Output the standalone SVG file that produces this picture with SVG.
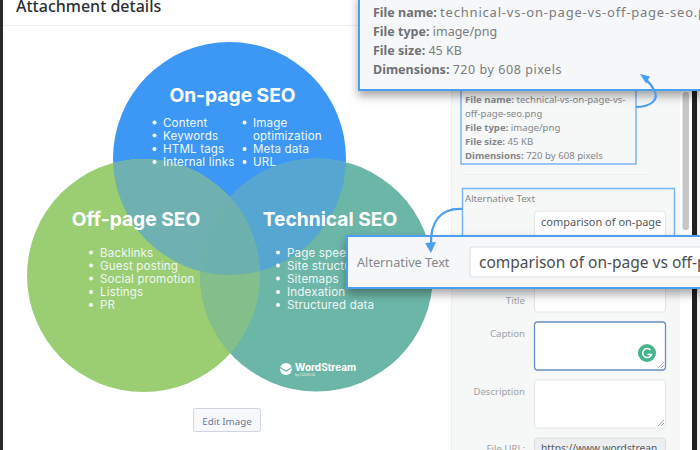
<svg xmlns="http://www.w3.org/2000/svg" width="700" height="450" viewBox="0 0 700 450">
<style>
text{font-family:"Liberation Sans",Arial,sans-serif}
.hd{font-family:Inter,"Open Sans",sans-serif;font-weight:700;font-size:19.2px;fill:#fff}
.li{font-family:Inter,"Open Sans",sans-serif;font-size:11.6px;letter-spacing:.15px;fill:#eef7f5}
.dim{fill:#7a7d80;font-size:12.5px;font-family:"Noto Sans",sans-serif}
.dimb{font-weight:700;fill:#6f7275}
.sm{fill:#85888b;font-size:9.6px;font-family:"Noto Sans",sans-serif}
.lab{fill:#a0a3a6;font-size:9.6px;font-family:"Noto Sans",sans-serif}
.fld{fill:#fff;stroke:#e2e4e7;stroke-width:1}
.hl{fill:none;stroke:#79b4f6;stroke-width:1.5}
.pop{fill:#f6f7f8;stroke:#4b9ff0;stroke-width:2}
.cv{fill:none;stroke:#4b9ff0;stroke-width:2.2}
.grip{fill:none;stroke:#9a9da0;stroke-width:.8}
</style>
<defs>
<clipPath id="cb"><circle cx="229.5" cy="158.5" r="116.5"/></clipPath>
<clipPath id="cg"><circle cx="143.5" cy="275.5" r="116.5"/></clipPath>
<filter id="sh" x="-5%" y="-20%" width="110%" height="150%"><feDropShadow dx="0" dy="5" stdDeviation="5" flood-color="#000" flood-opacity=".35"/></filter>
</defs>
<rect width="700" height="450" fill="#fff"/>
<rect x="0" y="0" width="3" height="450" fill="#2a2a2a"/>
<rect x="3" y="25" width="450" height="1" fill="#eeeeee"/>
<text x="16" y="12" font-size="16" font-weight="500" fill="#2b2f33" style="font-family:'Noto Sans',sans-serif">Attachment details</text>

<rect x="452" y="0" width="228" height="450" fill="#f6f7f7"/>
<rect x="451" y="0" width="1" height="450" fill="#eceeef"/>
<rect x="682.500" y="92" width="6.500" height="138" rx="3" fill="#c6c6c6"/>
<rect x="692" y="0" width="5" height="450" fill="#1f1f1f"/>
<rect x="697" y="0" width="3" height="450" fill="#f3f3f3"/>

<g id="venn">
<g id="on-page"><circle cx="229.5" cy="158.5" r="116.5" fill="#3d97f5"/></g>
<g id="off-page"><circle cx="143.5" cy="275.5" r="116.5" fill="#9bcd72"/></g>
<g id="technical"><circle cx="316.5" cy="275" r="116.5" fill="#6cb6a7"/></g>
<g clip-path="url(#cb)"><circle cx="143.5" cy="275.5" r="116.5" fill="#6fb1b2"/><circle cx="316.5" cy="275" r="116.5" fill="#55a6d0"/></g>
<g clip-path="url(#cg)"><circle cx="316.5" cy="275" r="116.5" fill="#82bf8b"/></g>
<g clip-path="url(#cb)"><g clip-path="url(#cg)"><circle cx="316.5" cy="275" r="116.5" fill="#6cb1ae"/></g></g>
</g>

<g id="on-page-text">
<text class="hd" x="232.500" y="102" text-anchor="middle">On-page SEO</text>
<circle cx="154.500" cy="122.500" r="2" fill="#fff"/><text class="li" x="163" y="127">Content</text>
<circle cx="154.500" cy="135.500" r="2" fill="#fff"/><text class="li" x="163" y="140">Keywords</text>
<circle cx="154.500" cy="149" r="2" fill="#fff"/><text class="li" x="163" y="153">HTML tags</text>
<circle cx="154.500" cy="162" r="2" fill="#fff"/><text class="li" x="163" y="166">Internal links</text>
<circle cx="244.500" cy="122.500" r="2" fill="#fff"/><text class="li" x="253" y="127">Image</text>
<text class="li" x="253" y="140">optimization</text>
<circle cx="244.500" cy="149" r="2" fill="#fff"/><text class="li" x="253" y="153">Meta data</text>
<circle cx="244.500" cy="162" r="2" fill="#fff"/><text class="li" x="253" y="166">URL</text>
</g>
<g id="off-page-text">
<text class="hd" x="136" y="226" text-anchor="middle">Off-page SEO</text>
<circle cx="91" cy="252.500" r="2" fill="#fff"/><text class="li" x="100" y="257">Backlinks</text>
<circle cx="91" cy="265.500" r="2" fill="#fff"/><text class="li" x="100" y="270">Guest posting</text>
<circle cx="91" cy="278.500" r="2" fill="#fff"/><text class="li" x="100" y="283">Social promotion</text>
<circle cx="91" cy="292" r="2" fill="#fff"/><text class="li" x="100" y="296">Listings</text>
<circle cx="91" cy="305" r="2" fill="#fff"/><text class="li" x="100" y="309">PR</text>
</g>
<g id="technical-text">
<text class="hd" x="330" y="226" text-anchor="middle">Technical SEO</text>
<circle cx="278" cy="252.500" r="2" fill="#fff"/><text class="li" x="287" y="257">Page speed</text>
<circle cx="278" cy="265.500" r="2" fill="#fff"/><text class="li" x="287" y="270">Site structure</text>
<circle cx="278" cy="278.500" r="2" fill="#fff"/><text class="li" x="287" y="283">Sitemaps</text>
<circle cx="278" cy="292" r="2" fill="#fff"/><text class="li" x="287" y="296">Indexation</text>
<circle cx="278" cy="305" r="2" fill="#fff"/><text class="li" x="287" y="309">Structured data</text>
<circle cx="286" cy="369" r="6" fill="#fff"/>
<path d="M280 367.500l6 3.500l6-3.500" fill="none" stroke="#6cb6a7" stroke-width="1.300"/>
<text x="295" y="371" font-size="10" font-weight="700" fill="#fff" style="font-family:Inter,sans-serif">WordStream</text>
<text x="295" y="376" font-size="3.500" fill="#e8f4f1" style="font-family:Inter,sans-serif">by LOCALIQ</text>
</g>

<g id="edit-image">
<rect x="193.500" y="408.500" width="67" height="23" rx="2" fill="#f7f8fb" stroke="#d0d5e2"/>
<text x="227" y="424.500" font-size="9.800" text-anchor="middle" fill="#6b7a9d" style="font-family:'Noto Sans',sans-serif">Edit Image</text>
</g>

<g id="file-info">
<rect class="hl" x="461" y="90" width="175" height="74"/>
<text class="sm" x="465" y="103"><tspan font-weight="700">File name:</tspan> technical-vs-on-page-vs-</text>
<text class="sm" x="465" y="117">off-page-seo.png</text>
<text class="sm" x="465" y="131"><tspan font-weight="700">File type:</tspan> image/png</text>
<text class="sm" x="465" y="145"><tspan font-weight="700">File size:</tspan> 45 KB</text>
<text class="sm" x="465" y="159"><tspan font-weight="700">Dimensions:</tspan> 720 by 608 pixels</text>
<rect x="463" y="174" width="187" height="1" fill="#eceeef"/>
</g>

<g id="alt-box">
<rect class="hl" x="462.500" y="188.500" width="212" height="60"/>
<text class="sm" x="465" y="202">Alternative Text</text>
<rect class="fld" x="534.500" y="211" width="131" height="26" rx="3"/>
<text x="541" y="226" font-size="11" fill="#55585b" style="font-family:'Noto Sans',sans-serif">comparison of on-page</text>
</g>

<g id="form">
<rect class="fld" x="534.500" y="285" width="131" height="27" rx="3"/>
<text class="lab" x="525" y="304" text-anchor="end">Title</text>
<rect x="534.500" y="322" width="131" height="48" rx="3" fill="#fff" stroke="#6b8fc4" stroke-width="1.300"/>
<circle cx="647" cy="353" r="9" fill="#46b48b"/>
<path d="M650.500 350a4.500 4.500 0 1 0 1 4.500h-4" fill="none" stroke="#fff" stroke-width="1.500"/>
<path class="grip" d="M658 368l6-6M661 368l3-3"/>
<text class="lab" x="525" y="337" text-anchor="end">Caption</text>
<rect class="fld" x="534.500" y="380" width="131" height="48" rx="3"/>
<path class="grip" d="M658 426l6-6M661 426l3-3"/>
<text class="lab" x="525" y="395" text-anchor="end">Description</text>
<rect x="534.500" y="438" width="131" height="14" rx="3" fill="#eceef0" stroke="#dddfe2"/>
<text class="lab" x="525" y="452" text-anchor="end">File URL:</text>
<text x="541" y="452" font-size="10.200" fill="#55585b" style="font-family:'Noto Sans',sans-serif">https://www.wordstrean</text>
</g>

<g id="popup-file">
<rect class="pop" x="359" y="-6" width="345" height="96" filter="url(#sh)"/>
<text class="dim" x="373" y="17"><tspan class="dimb">File name:</tspan> <tspan letter-spacing=".8" font-size="13">technical-vs-on-page-vs-off-page-seo.png</tspan></text>
<text class="dim" x="373" y="36"><tspan class="dimb">File type:</tspan> image/png</text>
<text class="dim" x="373" y="55"><tspan class="dimb">File size:</tspan> 45 KB</text>
<text class="dim" x="373" y="74"><tspan class="dimb">Dimensions:</tspan> <tspan letter-spacing=".55">720 by 608 pixels</tspan></text>
</g>

<g id="popup-alt">
<rect class="pop" x="347" y="236" width="358" height="52" filter="url(#sh)"/>
<text x="357" y="267" font-size="12.700" fill="#85888b" style="font-family:'Noto Sans',sans-serif">Alternative Text</text>
<rect x="470" y="247" width="240" height="30" rx="3" fill="#fff" stroke="#dcdee1"/>
<text x="479" y="268" font-size="15.500" fill="#4a4d50" style="font-family:'Noto Sans',sans-serif">comparison of on-page vs off-page</text>
</g>

<g id="connectors">
<path class="cv" d="M636 107C650 107 660 100 654 90C652 86 649 82 645 79"/>
<path d="M640 74l10 2.500l-4 7z" fill="#4b9ff0"/>
<path class="cv" d="M462 209C440 208 430 222 431 246"/>
<path d="M425 243l6 10l5-11z" fill="#4b9ff0"/>
</g>
</svg>
